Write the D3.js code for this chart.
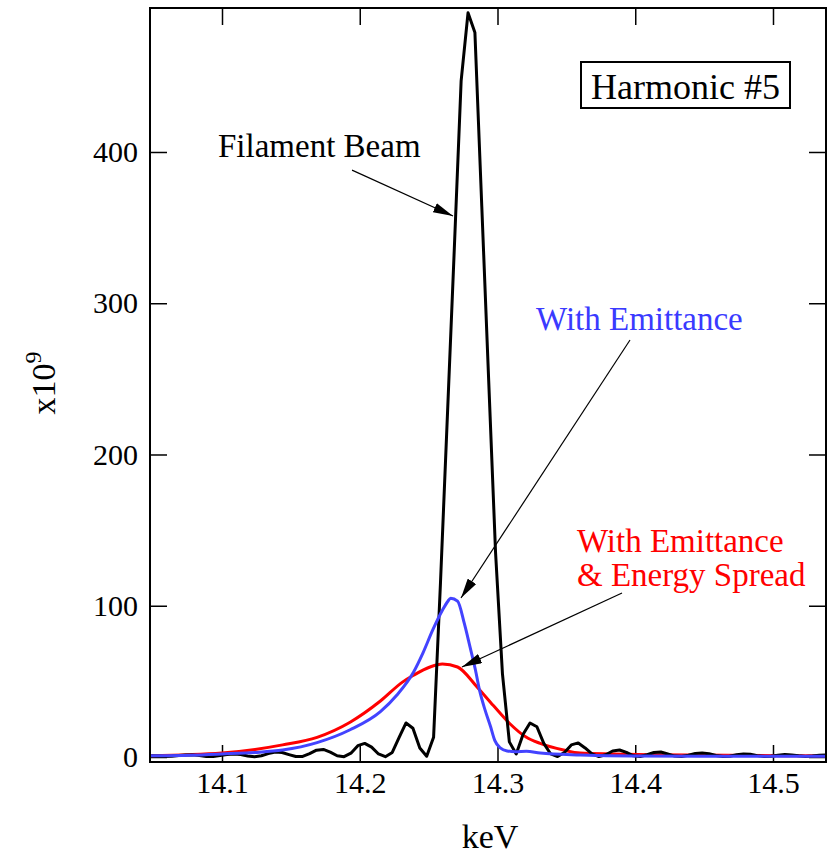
<!DOCTYPE html>
<html>
<head>
<meta charset="utf-8">
<script src="https://cdn.jsdelivr.net/npm/d3@7"></script>
<style>
  html, body { margin: 0; padding: 0; background: #fff; }
  svg { display: block; }
  text { font-family: "Liberation Serif", "Times New Roman", serif; }
</style>
</head>
<body>
<svg id="chart" width="829" height="856"></svg>
<script>
// ---------------- data ----------------
const xTicks = [14.1, 14.2, 14.3, 14.4, 14.5];
const yTicks = [0, 100, 200, 300, 400];

// Filament beam: sampled every 0.005 keV starting at 14.0486 keV
const filamentStart = 14.0486;
const filamentStep = 0.005;
const filamentValues = [
  0.8, 0.6, 0.4, 0.5, 1.0, 1.4, 1.4, 0.9, 0.3, 0.4,
  1.0, 1.7, 2.0, 1.6, 0.7, 0.2, 0.8, 2.2, 3.3, 3.0,
  1.6, 0.3, 0.4, 2.2, 4.5, 5.0, 3.2, 0.8, 0.2, 2.5,
  7.5, 9.0, 6.5, 2.0, 0.2, 3.0, 13, 22.5, 19, 6,
  0.5, 13, 115, 225, 335, 447, 492, 479, 364, 249,
  135, 55, 10, 2, 15, 22.5, 20, 9, 2, 0.3,
  3, 8, 9.3, 6, 2, 0.3, 1.5, 4, 4.6, 3,
  0.8, 0.3, 1.5, 3, 3.3, 2, 0.6, 0.3, 1.2, 2.3,
  2.6, 2.2, 1.0, 0.3, 0.5, 1.5, 2.0, 1.8, 0.9, 0.3,
  0.5, 1.2, 1.6, 1.4, 0.8, 0.4, 0.6, 1.1, 1.3
];

// With emittance (blue)
const emitEnergy = [14.048, 14.077, 14.100, 14.124, 14.144, 14.169, 14.193, 14.215, 14.227, 14.239,
  14.246, 14.253, 14.260, 14.264, 14.266, 14.271, 14.276, 14.280, 14.284, 14.287,
  14.291, 14.295, 14.298, 14.302, 14.307, 14.313, 14.321, 14.331, 14.360, 14.398,
  14.447, 14.538];
const emitValues = [0.8, 1.2, 2, 3, 4.6, 9.5, 18, 30, 41, 56,
  69, 84, 97, 103, 105, 103, 88, 73, 57.5, 44,
  31, 20, 11, 6, 4, 3.5, 3.8, 2.6, 1.3, 0.6,
  0.5, 0.5];

// With emittance & energy spread (red)
const spreadEnergy = [14.048, 14.100, 14.124, 14.144, 14.169, 14.193, 14.215, 14.231, 14.239, 14.251,
  14.260, 14.271, 14.285, 14.297, 14.309, 14.321, 14.331, 14.348, 14.360, 14.384,
  14.411, 14.538];
const spreadValues = [0.8, 2.6, 5, 8, 13, 23, 37, 49.5, 54, 59.5,
  61.5, 59.5, 46.5, 34, 22, 13, 9, 4.6, 2.6, 2,
  1.5, 0.8];

// ---------------- chart ----------------
const svg = d3.select("#chart");
const L = 150, R = 826, T = 8, B = 762;

const x = d3.scaleLinear().domain([14.04773, 14.53848]).range([L, R]);
const y = d3.scaleLinear().domain([-3.31, 495.2]).range([B, T]);

const defs = svg.append("defs");
defs.append("clipPath").attr("id", "plotclip")
  .append("rect").attr("x", L).attr("y", T).attr("width", R - L).attr("height", B - T);
defs.append("marker").attr("id", "arrow")
  .attr("viewBox", "0 0 20 10").attr("refX", 20).attr("refY", 5)
  .attr("markerUnits", "userSpaceOnUse").attr("markerWidth", 20).attr("markerHeight", 10)
  .attr("orient", "auto")
  .append("path").attr("d", "M0,0 L20,5 L0,10 Z").attr("fill", "#000");

const fontAxis = 30;

// Axes
const tickLen = 17;
const gx = svg.append("g").attr("transform", `translate(0,${B})`)
  .call(d3.axisBottom(x).tickValues(xTicks).tickSizeInner(-tickLen).tickSizeOuter(0).tickPadding(10).tickFormat(d3.format(".1f")));
const gxTop = svg.append("g").attr("transform", `translate(0,${T})`)
  .call(d3.axisTop(x).tickValues(xTicks).tickSizeInner(-tickLen).tickSizeOuter(0).tickFormat(""));
const gy = svg.append("g").attr("transform", `translate(${L},0)`)
  .call(d3.axisLeft(y).tickValues(yTicks).tickSizeInner(-tickLen).tickSizeOuter(0).tickPadding(12).tickFormat(d3.format("d")));
const gyR = svg.append("g").attr("transform", `translate(${R},0)`)
  .call(d3.axisRight(y).tickValues(yTicks).tickSizeInner(-tickLen).tickSizeOuter(0).tickFormat(""));

[gx, gxTop, gy, gyR].forEach(g => {
  g.select(".domain").remove();
  g.selectAll(".tick line").attr("stroke", "#000").attr("stroke-width", 1.5);
  g.selectAll("text").attr("font-size", fontAxis).attr("fill", "#000")
    .attr("font-family", "'Liberation Serif', 'Times New Roman', serif");
});

// Curves
const plot = svg.append("g").attr("clip-path", "url(#plotclip)");

const filamentData = filamentValues.map((v, i) => [filamentStart + i * filamentStep, v]);
const emitData = emitEnergy.map((e, i) => [e, emitValues[i]]);
const spreadData = spreadEnergy.map((e, i) => [e, spreadValues[i]]);

const lineStraight = d3.line().x(d => x(d[0])).y(d => y(d[1]));
const lineSmooth = d3.line().x(d => x(d[0])).y(d => y(d[1])).curve(d3.curveMonotoneX);

plot.append("path").datum(spreadData).attr("d", lineSmooth)
  .attr("fill", "none").attr("stroke", "#ff0000").attr("stroke-width", 3).attr("stroke-linejoin", "round");
plot.append("path").datum(filamentData).attr("d", lineStraight)
  .attr("fill", "none").attr("stroke", "#000").attr("stroke-width", 3).attr("stroke-linejoin", "round");
plot.append("path").datum(emitData).attr("d", lineSmooth)
  .attr("fill", "none").attr("stroke", "#4343ff").attr("stroke-width", 3).attr("stroke-linejoin", "round");

// Frame
svg.append("rect").attr("x", L).attr("y", T).attr("width", R - L).attr("height", B - T)
  .attr("fill", "none").attr("stroke", "#000").attr("stroke-width", 2);

// Axis titles
svg.append("text").attr("x", 490).attr("y", 848).attr("text-anchor", "middle")
  .attr("font-size", 34).text("keV");
const yl = svg.append("text").attr("transform", "translate(55,383) rotate(-90)")
  .attr("text-anchor", "middle").attr("font-size", 34);
yl.append("tspan").text("x10");
yl.append("tspan").attr("dy", -14).attr("font-size", 24).text("9");

// Annotations (positions in data units)
const annFont = 33;
svg.append("text").attr("x", x(14.0971)).attr("y", y(396.7)).attr("font-size", annFont)
  .attr("fill", "#000").text("Filament Beam");
svg.append("line").attr("x1", x(14.1944)).attr("y1", y(388)).attr("x2", x(14.2677)).attr("y2", y(357.7))
  .attr("stroke", "#000").attr("stroke-width", 1.2).attr("marker-end", "url(#arrow)");

svg.append("text").attr("x", x(14.328)).attr("y", y(282.3)).attr("font-size", annFont)
  .attr("fill", "#3a3aff").text("With Emittance");
svg.append("line").attr("x1", x(14.3962)).attr("y1", y(275.7)).attr("x2", x(14.2735)).attr("y2", y(105.1))
  .attr("stroke", "#000").attr("stroke-width", 1.2).attr("marker-end", "url(#arrow)");

svg.append("text").attr("x", x(14.3577)).attr("y", y(135.5)).attr("font-size", annFont)
  .attr("fill", "#ff0000").text("With Emittance");
svg.append("text").attr("x", x(14.3577)).attr("y", y(113)).attr("font-size", annFont)
  .attr("fill", "#ff0000").text("& Energy Spread");
svg.append("line").attr("x1", x(14.3904)).attr("y1", y(108.4)).attr("x2", x(14.2742)).attr("y2", y(59.5))
  .attr("stroke", "#000").attr("stroke-width", 1.2).attr("marker-end", "url(#arrow)");

// Harmonic box
const hb = svg.append("g");
hb.append("rect").attr("x", 581).attr("y", 62).attr("width", 209).attr("height", 46)
  .attr("fill", "#fff").attr("stroke", "#000").attr("stroke-width", 2);
hb.append("text").attr("x", 685.5).attr("y", 99).attr("text-anchor", "middle")
  .attr("font-size", 36).text("Harmonic #5");
</script>
</body>
</html>
